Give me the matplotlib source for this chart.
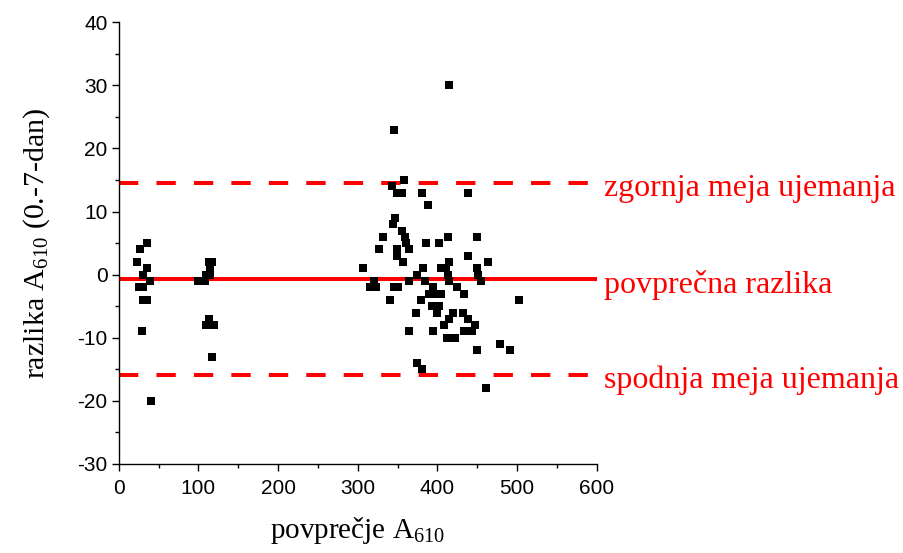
import matplotlib
matplotlib.use("Agg")
import matplotlib.pyplot as plt
import numpy as np

plt.rcParams["font.family"] = ["Liberation Sans", "DejaVu Sans"]
plt.rcParams["mathtext.fontset"] = "custom"
plt.rcParams["mathtext.rm"] = "Liberation Serif"
plt.rcParams["mathtext.it"] = "Liberation Serif:italic"
plt.rcParams["axes.unicode_minus"] = False

# povprecje (mean) and razlika (difference)
mean_x = [36, 27, 23, 36, 30, 39, 25, 31, 30, 35, 29, 40,
          117, 113, 115, 110, 115, 99, 108, 113, 110, 119, 117,
          307, 316, 323, 320, 327, 332, 340, 343, 344, 345, 345, 347,
          349, 349, 349, 350, 355, 356, 357, 358, 359, 360, 364, 364,
          365, 373, 374, 374, 380, 381, 381, 382, 385, 386, 388, 390,
          393, 394, 395, 397, 399, 402, 402, 405, 405, 408, 411, 412,
          413, 413, 414, 414, 415, 415, 420, 422, 424, 432, 433, 434,
          438, 438, 439, 444, 447, 450, 450, 450, 451, 455, 461, 463,
          479, 491, 503]
diff_y = [5, 4, 2, 1, 0, -1, -2, -2, -4, -4, -9, -20,
          2, 2, 1, 0, 0, -1, -1, -7, -8, -8, -13,
          1, -2, -2, -1, 4, 6, -4, 14, 8, 23, -2, 9,
          13, 4, 3, -2, 7, 13, 2, 15, 6, 5, -1, -9,
          4, -6, 0, -14, -4, -15, 13, 1, -1, 5, 11, -3,
          -5, -9, -2, -3, -6, 5, -5, 1, -3, -8, 1, -10,
          6, 0, -1, 2, 30, -7, -6, -10, -2, -6, -9, -3,
          13, 3, -7, -9, -8, 6, 1, -12, 0, -1, -18, 2,
          -11, -12, -4]

mean_diff = -0.7
upper_loa = 14.5
lower_loa = -15.9
line_labels = ["zgornja meja ujemanja", "povprečna razlika", "spodnja meja ujemanja"]

fig, ax = plt.subplots(figsize=(9.04, 5.53), dpi=100)
fig.subplots_adjust(left=0.1313, right=0.6601, top=0.9597, bottom=0.161)

ax.axhline(upper_loa, color="red", lw=2.9, dashes=(4.8, 4.5), zorder=1)
ax.axhline(mean_diff, color="red", lw=2.9, zorder=1)
ax.axhline(lower_loa, color="red", lw=2.9, dashes=(4.8, 4.5), zorder=1)

ax.plot(mean_x, diff_y, "s", color="black", ms=5.6, mew=0, zorder=3)

for yy, lab in zip([upper_loa, mean_diff, lower_loa], line_labels):
    ax.annotate(lab, xy=(609, yy), xytext=(0, -4), textcoords="offset points",
                color="red", fontsize=23, family="Liberation Serif",
                va="center", ha="left", annotation_clip=False)

ax.set_xlim(0, 600)
ax.set_ylim(-30, 40)
ax.set_xticks(np.arange(0, 601, 100))
ax.set_xticks(np.arange(50, 600, 100), minor=True)
ax.set_yticks(np.arange(-30, 41, 10))
ax.set_yticks(np.arange(-25, 40, 10), minor=True)

for side in ["top", "right"]:
    ax.spines[side].set_visible(False)
for side in ["left", "bottom"]:
    ax.spines[side].set_linewidth(1.0)

ax.tick_params(which="major", direction="out", length=5, width=1.0,
               labelsize=15)
ax.tick_params(axis="x", which="major", pad=6)
ax.tick_params(axis="y", which="major", pad=3)
ax.tick_params(which="minor", direction="out", length=3, width=1.0)

ax.set_xlabel(r"povprečje A$_{\mathrm{610}}$", fontsize=21,
              family="Liberation Serif", labelpad=12)
ax.set_ylabel(r"razlika A$_{\mathrm{610}}$ (0.-7-dan)", fontsize=21.5,
              family="Liberation Serif", labelpad=18)

fig.savefig("out.png", dpi=100)
